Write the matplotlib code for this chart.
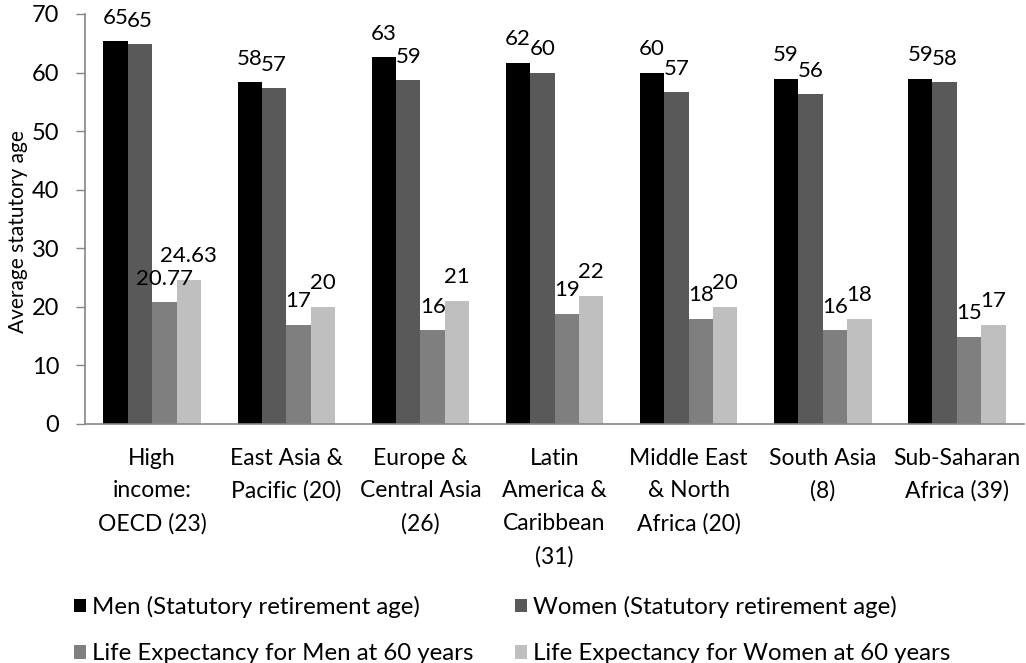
import numpy as np
import matplotlib
matplotlib.use("Agg")
import matplotlib.pyplot as plt
from matplotlib.patches import Patch

plt.rcParams["font.family"] = ["Lato", "DejaVu Sans"]

# data
regions = [
    "High\nincome:\nOECD (23)",
    "East Asia &\nPacific (20)",
    "Europe &\nCentral Asia\n(26)",
    "Latin\nAmerica &\nCaribbean\n(31)",
    "Middle East\n& North\nAfrica (20)",
    "South Asia\n(8)",
    "Sub-Saharan\nAfrica (39)",
]

men_ret = [65.3, 58.3, 62.6, 61.7, 60.0, 58.9, 58.9]
women_ret = [64.8, 57.3, 58.7, 60.0, 56.6, 56.3, 58.3]
le_men = [20.77, 16.9, 16.0, 18.8, 18.0, 16.0, 14.9]
le_women = [24.63, 20.0, 21.05, 21.9, 20.0, 18.0, 16.9]

men_ret_lbl = ["65", "58", "63", "62", "60", "59", "59"]
women_ret_lbl = ["65", "57", "59", "60", "57", "56", "58"]
le_men_lbl = ["20.77", "17", "16", "19", "18", "16", "15"]
le_women_lbl = ["24.63", "20", "21", "22", "20", "18", "17"]

series = [
    ("Men (Statutory retirement age)", men_ret, men_ret_lbl, "#000000"),
    ("Women (Statutory retirement age)", women_ret, women_ret_lbl, "#595959"),
    ("Life Expectancy for Men at 60 years", le_men, le_men_lbl, "#7f7f7f"),
    ("Life Expectancy for Women at 60 years", le_women, le_women_lbl, "#bfbfbf"),
]

fig = plt.figure(figsize=(10.26, 6.63), dpi=100)
ax = fig.add_axes([0.083, 0.3605, 0.915, 0.6185])

x = np.arange(len(regions))
bar_w = 0.182

for i, (name, vals, lbls, color) in enumerate(series):
    xpos = x + (i - 1.5) * bar_w
    bars = ax.bar(xpos, vals, width=bar_w, color=color, label=name,
                  edgecolor="none")
    for b, t in zip(bars, lbls):
        ax.annotate(t, (b.get_x() + b.get_width() / 2, b.get_height()),
                    xytext=(0, 17), textcoords="offset points",
                    ha="center", va="center", fontsize=16, color="black")

ax.set_xlim(-0.5, len(regions) - 0.5)
ax.set_ylim(0, 70)
ax.set_yticks(np.arange(0, 71, 10))
ax.set_xticks(x)
ax.set_xticklabels(regions, fontsize=16.5, linespacing=1.68)
ax.tick_params(axis="x", length=0, pad=17)
ax.tick_params(axis="y", length=6.5, width=1, color="#868686",
               labelsize=17, pad=12)
ax.set_ylabel("Average statutory age", fontsize=15)
ax.yaxis.set_label_coords(-0.061, 0.47)

for s in ["top", "right"]:
    ax.spines[s].set_visible(False)
for s in ["left", "bottom"]:
    ax.spines[s].set_color("#868686")
    ax.spines[s].set_linewidth(1.2)

# legend fills column-wise, so order handles to read row by row
order = [0, 2, 1, 3]
handles = [Patch(facecolor=series[k][3], edgecolor="none", label=series[k][0])
           for k in order]
fig.legend(handles=handles, loc="upper left", bbox_to_anchor=(0.072, 0.101),
           ncol=2, frameon=False, fontsize=17.3, handlelength=0.5,
           handleheight=0.5, handletextpad=0.25, columnspacing=1.75,
           labelspacing=1.05, borderaxespad=0, borderpad=0)

fig.savefig("out.png", dpi=100)
